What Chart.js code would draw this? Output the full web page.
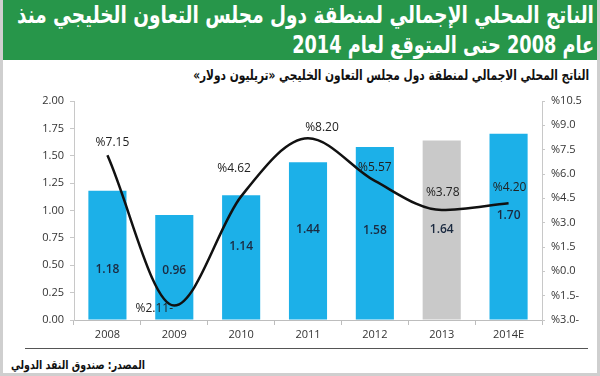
<!DOCTYPE html>
<html>
<head>
<meta charset="utf-8">
<script src="https://cdn.jsdelivr.net/npm/chart.js@4.4.1/dist/chart.umd.min.js"></script>
<style>
  html, body { margin: 0; padding: 0; background: #fff; }
  #frame { position: relative; width: 600px; height: 376px; box-sizing: border-box;
           border: 3px solid #cfcfcf; border-top: none; overflow: hidden; background: #fff; }
  #header { position: absolute; left: -3px; top: 0; width: 600px; height: 60px; background: #27964a; }
  .fit { position: absolute; direction: rtl; white-space: nowrap; line-height: 1;
         font-family: "DejaVu Sans", sans-serif; font-weight: bold; transform-origin: right center; }
  .title { right: 6px; color: #fff; font-size: 24px; }
  #t1 { top: 3px; }
  #t2 { top: 33px; }
  #subtitle { right: 8px; top: 68px; font-size: 14px; color: #111; }
  #rule { position: absolute; left: 22px; right: 9px; top: 348px; height: 0; border-top: 1px solid #555; }
  #source { left: 8px; top: 359px; font-size: 12px; color: #111; transform-origin: left center; }
  #c { position: absolute; left: -3px; top: 80px; }
</style>
</head>
<body>
<div id="frame">
  <div id="header">
    <div class="fit title" id="t1" data-w="577">الناتج المحلي الإجمالي لمنطقة دول مجلس التعاون الخليجي منذ</div>
    <div class="fit title" id="t2" data-w="302">عام 2008 حتى المتوقع لعام 2014</div>
  </div>
  <div class="fit" id="subtitle" data-w="396">الناتج المحلي الاجمالي لمنطقة دول مجلس التعاون الخليجي «تريليون دولار»</div>
  <canvas id="c" width="600" height="265"></canvas>
  <div id="rule"></div>
  <div class="fit" id="source" data-w="134">المصدر: صندوق النقد الدولي</div>
</div>
<script>
document.querySelectorAll('.fit').forEach(el => {
  const target = Number(el.dataset.w);
  const w = el.getBoundingClientRect().width;
  if (w > 0) el.style.transform = 'scaleX(' + (target / w) + ')';
});

// ---- data ----
const categories = ['2008', '2009', '2010', '2011', '2012', '2013', '2014E'];
const gdpTrillionUSD = [1.18, 0.96, 1.14, 1.44, 1.58, 1.64, 1.70];
const growthPercent = [7.15, -2.11, 4.62, 8.20, 5.57, 3.78, 4.20];
const leftTicks = [0, 0.25, 0.5, 0.75, 1.0, 1.25, 1.5, 1.75, 2.0];
const rightTicks = [-3, -1.5, 0, 1.5, 3, 4.5, 6, 7.5, 9, 10.5];
const highlightedCategory = '2013';

const BLUE = '#1cb0e8', GREY = '#c9c9c9';
const pctLabel = (v, d) => '%' + Math.abs(v).toFixed(d) + (v < 0 ? '-' : '');

const labelPlugin = {
  id: 'valueLabels',
  afterDatasetsDraw(chart, args, opts) {
    const ctx = chart.ctx;
    ctx.save();
    ctx.textAlign = 'center';
    ctx.textBaseline = 'middle';
    const barMeta = chart.getDatasetMeta(1);
    ctx.font = '600 12px "Open Sans"';
    ctx.fillStyle = '#1b2a40';
    barMeta.data.forEach((el, i) => {
      const y = (el.y + el.base) / 2 + (opts.barOffsets[i] || 0);
      ctx.fillText(chart.data.datasets[1].data[i].toFixed(2), el.x, y);
    });
    const lineMeta = chart.getDatasetMeta(0);
    ctx.font = '12px "Open Sans"';
    ctx.fillStyle = '#222';
    lineMeta.data.forEach((el, i) => {
      const o = opts.lineOffsets[i];
      ctx.fillText(pctLabel(chart.data.datasets[0].data[i], 2), el.x + o[0], el.y + o[1]);
    });
    ctx.restore();
  }
};

new Chart(document.getElementById('c'), {
  data: {
    labels: categories,
    datasets: [
      {
        type: 'line', yAxisID: 'yR', data: growthPercent, order: 0,
        borderColor: '#111', borderWidth: 2.5, pointRadius: 0,
        cubicInterpolationMode: 'monotone', fill: false
      },
      {
        type: 'bar', yAxisID: 'yL', data: gdpTrillionUSD, order: 1,
        backgroundColor: categories.map(c => c === highlightedCategory ? GREY : BLUE),
        categoryPercentage: 1, barPercentage: 0.57
      }
    ]
  },
  options: {
    responsive: false, animation: false,
    layout: { padding: { top: 21, left: 0, right: 0, bottom: 0 } },
    plugins: {
      legend: { display: false }, tooltip: { enabled: false },
      valueLabels: {
        barOffsets: [14, 3, -11, -11, -3, 0, -11],
        lineOffsets: [[5, -13], [-20, 3], [-7, -28], [14, -11], [0, -13], [1, -17], [1, -16]]
      }
    },
    scales: {
      x: {
        grid: { display: true, drawOnChartArea: false, tickLength: 5, color: '#bdbdbd', offset: true },
        border: { color: '#bdbdbd', width: 1 },
        ticks: { color: '#333', font: { family: 'Open Sans', size: 11 }, padding: 3, maxRotation: 0 },
        afterFit: s => { s.height = 25; }
      },
      yL: {
        position: 'left', min: 0, max: 2,
        afterBuildTicks: s => { s.ticks = leftTicks.map(v => ({ value: v })); },
        grid: { drawOnChartArea: false, tickLength: 4, color: '#c8c8c8' },
        border: { color: '#c8c8c8', width: 1 },
        ticks: { color: '#333', font: { family: 'Open Sans', size: 11 }, padding: 6,
                 callback: v => Number(v).toFixed(2) },
        afterFit: s => { s.width = 74; }
      },
      yR: {
        position: 'right', min: -3, max: 10.5,
        afterBuildTicks: s => { s.ticks = rightTicks.map(v => ({ value: v })); },
        grid: { drawOnChartArea: false, tickLength: 3, color: '#c8c8c8' },
        border: { color: '#c8c8c8', width: 1 },
        ticks: { color: '#333', font: { family: 'Open Sans', size: 11 }, padding: 6,
                 callback: v => pctLabel(Number(v), 1) },
        afterFit: s => { s.width = 58; }
      }
    }
  },
  plugins: [labelPlugin]
});
</script>
</body>
</html>
